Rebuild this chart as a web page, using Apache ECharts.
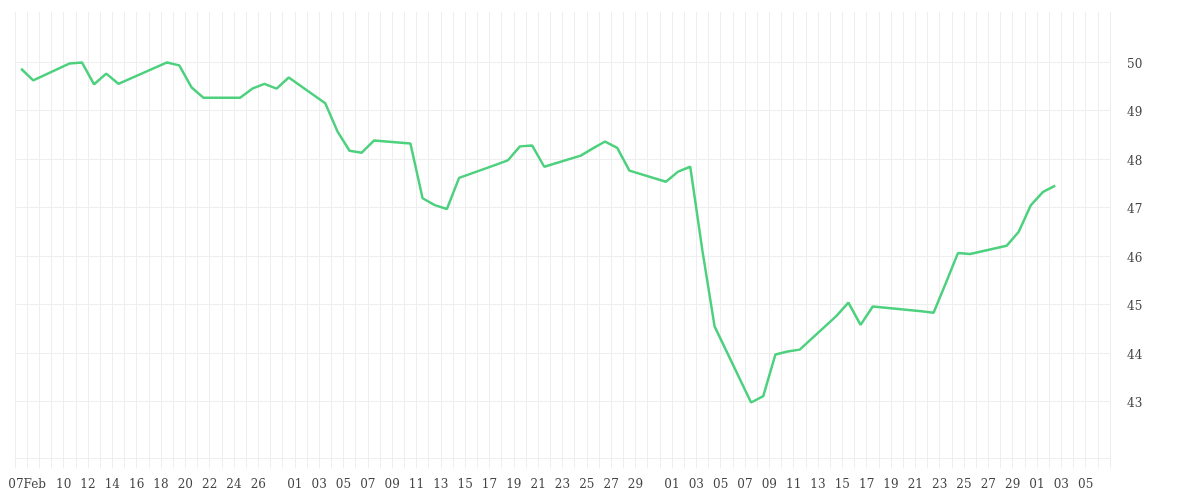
<!DOCTYPE html>
<html>
<head>
<meta charset="utf-8">
<script src="https://cdn.jsdelivr.net/npm/echarts@6/dist/echarts.min.js"></script>
<style>html,body{margin:0;padding:0;background:#fff}#chart{width:1200px;height:500px}</style>
</head>
<body>
<div id="chart"></div>
<script>
// Trading dates and closing values (2025)
const dates = [
  '2025-02-06','2025-02-07','2025-02-10','2025-02-11','2025-02-12','2025-02-13','2025-02-14',
  '2025-02-18','2025-02-19','2025-02-20','2025-02-21','2025-02-24','2025-02-25','2025-02-26',
  '2025-02-27','2025-02-28','2025-03-03','2025-03-04','2025-03-05','2025-03-06','2025-03-07',
  '2025-03-10','2025-03-11','2025-03-12','2025-03-13','2025-03-14','2025-03-17','2025-03-18',
  '2025-03-19','2025-03-20','2025-03-21','2025-03-24','2025-03-25','2025-03-26','2025-03-27',
  '2025-03-28','2025-03-31','2025-04-01','2025-04-02','2025-04-03','2025-04-04','2025-04-07',
  '2025-04-08','2025-04-09','2025-04-10','2025-04-11','2025-04-14','2025-04-15','2025-04-16',
  '2025-04-17','2025-04-21','2025-04-22','2025-04-23','2025-04-24','2025-04-25','2025-04-28',
  '2025-04-29','2025-04-30','2025-05-01','2025-05-02'
];
const values = [
  49.86, 49.62, 49.97, 49.99, 49.54, 49.76, 49.55,
  49.99, 49.93, 49.48, 49.26, 49.26, 49.45, 49.55,
  49.45, 49.68, 49.15, 48.57, 48.17, 48.13, 48.38,
  48.32, 47.19, 47.05, 46.97, 47.61, 47.88, 47.97,
  48.26, 48.28, 47.84, 48.07, 48.22, 48.36, 48.23,
  47.76, 47.53, 47.74, 47.84, 46.11, 44.55, 42.98,
  43.11, 43.97, 44.03, 44.07, 44.76, 45.04, 44.58,
  44.96, 44.86, 44.83, 45.44, 46.06, 46.04, 46.21,
  46.50, 47.05, 47.32, 47.45
];
// Axis range (calendar days shown as bands)
const axisStart = '2025-02-06';
const axisEnd = '2025-05-06';
// X tick labels
const xTickDates = [
  '2025-02-07','2025-02-10','2025-02-12','2025-02-14','2025-02-16','2025-02-18','2025-02-20',
  '2025-02-22','2025-02-24','2025-02-26',
  '2025-03-01','2025-03-03','2025-03-05','2025-03-07','2025-03-09','2025-03-11','2025-03-13',
  '2025-03-15','2025-03-17','2025-03-19','2025-03-21','2025-03-23','2025-03-25','2025-03-27','2025-03-29',
  '2025-04-01','2025-04-03','2025-04-05','2025-04-07','2025-04-09','2025-04-11','2025-04-13',
  '2025-04-15','2025-04-17','2025-04-19','2025-04-21','2025-04-23','2025-04-25','2025-04-27','2025-04-29',
  '2025-05-01','2025-05-03','2025-05-05'
];
const xTickTexts = [
  '07Feb','10','12','14','16','18','20','22','24','26',
  '01','03','05','07','09','11','13','15','17','19','21','23','25','27','29',
  '01','03','05','07','09','11','13','15','17','19','21','23','25','27','29',
  '01','03','05'
];
// Y tick labels
const yTicks = [43, 44, 45, 46, 47, 48, 49, 50];

// Build calendar categories
const categories = [];
{
  const d = new Date(axisStart + 'T00:00:00Z');
  const end = new Date(axisEnd + 'T00:00:00Z');
  while (d <= end) {
    categories.push(d.toISOString().slice(0, 10));
    d.setUTCDate(d.getUTCDate() + 1);
  }
}
const valueByDate = {};
dates.forEach((d, i) => { valueByDate[d] = values[i]; });
const seriesData = categories.map(d => (d in valueByDate ? valueByDate[d] : null));
const tickTextByDate = {};
xTickDates.forEach((d, i) => { tickTextByDate[d] = xTickTexts[i]; });

const gridColor = '#eeeeee';
const fontFamily = 'DejaVu Serif';

const chart = echarts.init(document.getElementById('chart'), null, { renderer: 'canvas' });
chart.setOption({
  animation: false,
  grid: { left: 15, right: 90, top: 12, bottom: 41.7, containLabel: false, outerBoundsMode: 'none' },
  xAxis: {
    type: 'category',
    data: categories,
    boundaryGap: true,
    axisLine: { show: true, lineStyle: { color: gridColor, width: 1 } },
    axisTick: { show: true, interval: 0, length: 10, lineStyle: { color: gridColor } },
    splitLine: { show: true, interval: 0, lineStyle: { color: gridColor, width: 1 } },
    axisLabel: {
      interval: (idx, val) => val in tickTextByDate,
      formatter: val => tickTextByDate[val] || '',
      color: '#444',
      fontFamily: fontFamily,
      fontSize: 12,
      margin: 21,
      padding: [0, 12.17, 0, 0]
    }
  },
  yAxis: {
    type: 'value',
    position: 'right',
    min: 41.83,
    max: 51.03,
    axisLine: { show: false },
    axisTick: { show: false, customValues: yTicks },
    splitLine: { show: true, lineStyle: { color: gridColor, width: 1 } },
    axisLabel: {
      customValues: yTicks,
      formatter: v => '{t|' + v + '}',
      margin: 17,
      rich: {
        t: {
          color: '#444',
          fontFamily: fontFamily,
          fontSize: 12,
          padding: [5, 0, 0, 0]
        }
      }
    }
  },
  series: [{
    type: 'line',
    data: seriesData,
    connectNulls: true,
    showSymbol: false,
    symbol: 'none',
    lineStyle: { color: '#4ed17e', width: 2.5 },
    itemStyle: { color: '#4ed17e' }
  }]
});
</script>
</body>
</html>
